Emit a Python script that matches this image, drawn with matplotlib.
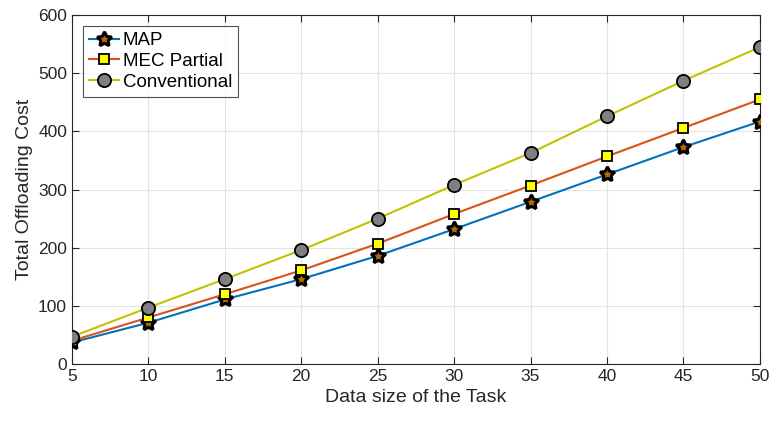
import matplotlib
matplotlib.use("Agg")
import matplotlib.pyplot as plt
from matplotlib.ticker import MultipleLocator

plt.rcParams['font.family'] = ['Liberation Sans', 'DejaVu Sans']

x = [5, 10, 15, 20, 25, 30, 35, 40, 45, 50]
map_cost = [37, 71, 111, 146, 186, 232, 279, 326, 373, 417]
mec_partial = [40, 80, 120, 161, 207, 258, 307, 357, 406, 455]
conventional = [47, 97, 146, 196, 250, 308, 363, 426, 487, 545]

fig = plt.figure(figsize=(7.69, 4.21), dpi=100)
ax = fig.add_axes([0.0936, 0.1354, 0.8944, 0.8286])

ax.plot(x, map_cost, color='#0072BD', lw=1.5, marker=(5, 1, 0), ms=11,
        mfc='#B06A00', mec='black', mew=2.2, label='MAP', zorder=3)
ax.plot(x, mec_partial, color='#D95319', lw=1.5, marker='s', ms=7.5,
        mfc='#FFFF00', mec='black', mew=1.3, label='MEC Partial', zorder=3)
ax.plot(x, conventional, color='#C2C200', lw=1.5, marker='o', ms=9.5,
        mfc='#808080', mec='black', mew=1.3, label='Conventional', zorder=3)

ax.set_xlim(5, 50)
ax.set_ylim(0, 600)
ax.xaxis.set_major_locator(MultipleLocator(5))
ax.yaxis.set_major_locator(MultipleLocator(100))
ax.grid(True, color='#E3E3E3', lw=0.8)
ax.set_axisbelow(True)
ax.tick_params(direction='in', length=5, labelsize=12.5, top=True, right=True,
               colors='#262626')
for s in ax.spines.values():
    s.set_color('#262626')
    s.set_linewidth(0.8)
ax.set_xlabel('Data size of the Task', fontsize=14, color='#262626')
ax.set_ylabel('Total Offloading Cost', fontsize=14, color='#262626')

leg = ax.legend(loc='upper left', fontsize=13.5, frameon=True, fancybox=False,
                edgecolor='#262626', handlelength=1.6, handletextpad=0.2,
                borderpad=0.3, labelspacing=0.2, borderaxespad=0.6)
leg.get_frame().set_linewidth(0.8)

fig.savefig('out.png', dpi=100)
